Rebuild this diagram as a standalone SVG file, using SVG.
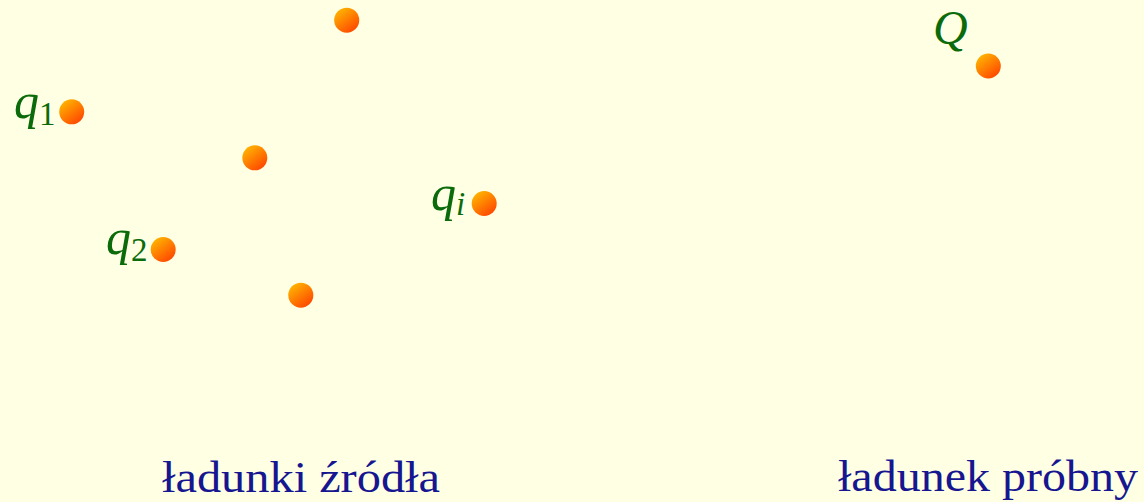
<svg xmlns="http://www.w3.org/2000/svg" width="1144" height="502" viewBox="0 0 1144 502">
  <defs>
    <linearGradient id="ball" x1="0.2" y1="0.1" x2="0.8" y2="0.9">
      <stop offset="0" stop-color="#ffb000"/>
      <stop offset="1" stop-color="#ff4a00"/>
    </linearGradient>
    <style>
      .ch { fill: url(#ball); }
      .m { font-family: "Liberation Serif", "DejaVu Serif", serif; font-style: italic; font-size: 50px; fill: #0b6b0b; }
      .sub { font-style: normal; font-size: 33px; }
      .subi { font-style: italic; font-size: 33px; }
      .lbl { font-family: "Liberation Serif", "DejaVu Serif", serif; font-size: 44px; fill: #161690; }
    </style>
  </defs>
  <rect width="1144" height="502" fill="#ffffe4"/>
  <g id="connectors"/>
  <g id="charge-top"><circle class="ch" cx="346.7" cy="20.2" r="12.5"/></g>
  <g id="q1"><circle class="ch" cx="71.7" cy="111.8" r="12.5"/>
    <text class="m" x="14" y="118">q<tspan class="sub" dy="7">1</tspan></text></g>
  <g id="charge-mid"><circle class="ch" cx="254.8" cy="157.8" r="12.5"/></g>
  <g id="qi"><circle class="ch" cx="484.2" cy="203.5" r="12.5"/>
    <text class="m" x="431" y="210">q<tspan class="subi" dy="5">i</tspan></text></g>
  <g id="q2"><circle class="ch" cx="163.2" cy="249.5" r="12.5"/>
    <text class="m" x="106" y="254">q<tspan class="sub" dy="7">2</tspan></text></g>
  <g id="charge-bottom"><circle class="ch" cx="300.8" cy="295.2" r="12.5"/></g>
  <g id="Q"><circle class="ch" cx="988.3" cy="66" r="12.5"/>
    <text class="m" x="933" y="44" style="font-size:48px">Q</text></g>
  <g id="label-source"><text class="lbl" x="162" y="492" textLength="278" lengthAdjust="spacingAndGlyphs">ładunki źródła</text></g>
  <g id="label-test"><text class="lbl" x="838" y="491" textLength="300" lengthAdjust="spacingAndGlyphs">ładunek próbny</text></g>
</svg>
